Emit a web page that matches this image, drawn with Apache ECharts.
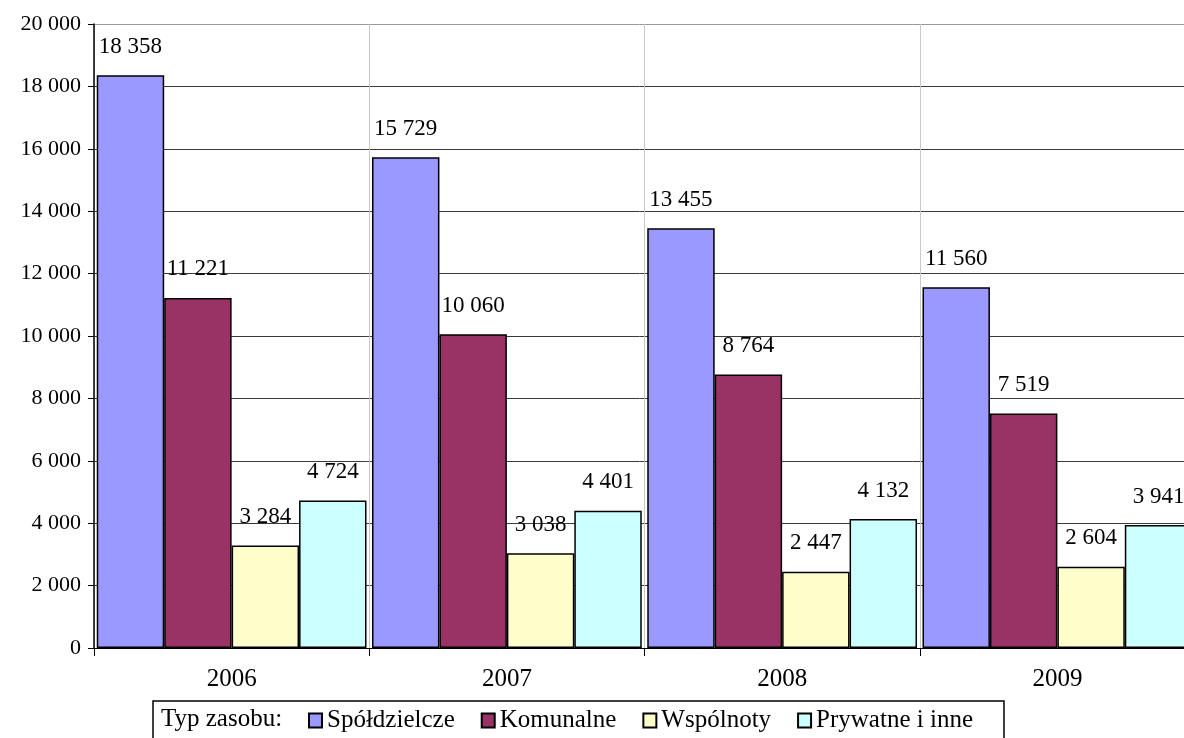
<!DOCTYPE html>
<html>
<head>
<meta charset="utf-8">
<script src="https://cdn.jsdelivr.net/npm/echarts@6/dist/echarts.min.js"></script>
<style>
    html, body { margin: 0; padding: 0; background: #fff; }
    #chart { width: 1184px; height: 738px; }
</style>
</head>
<body>
<div id="chart"></div>
<script>
var years = ['2006', '2007', '2008', '2009'];
var seriesNames = ['Spółdzielcze', 'Komunalne', 'Wspólnoty', 'Prywatne i inne'];
var spoldzielcze = [18358, 15729, 13455, 11560];
var komunalne = [11221, 10060, 8764, 7519];
var wspolnoty = [3284, 3038, 2447, 2604];
var prywatne = [4724, 4401, 4132, 3941];
var colors = ['#9999FF', '#993366', '#FFFFCC', '#CCFFFF'];

var FONT = 'Liberation Serif';

function fmt(v) {
    return String(v).replace(/\B(?=(\d{3})+(?!\d))/g, ' ');
}

function makeSeries(name, data, color) {
    return {
        name: name,
        type: 'bar',
        data: data,
        barGap: '0%',
        barCategoryGap: '2%',
        itemStyle: {
            color: color,
            borderColor: '#000',
            borderWidth: 1.5
        },
        label: {
            show: true,
            position: 'top',
            distance: 17,
            color: '#000',
            fontFamily: FONT,
            fontSize: 23,
            formatter: function (p) { return fmt(p.value); }
        }
    };
}

var chart = echarts.init(document.getElementById('chart'));

// top grid line is lighter than the rest
var gridColors = [];
for (var i = 0; i < 10; i++) gridColors.push('#3a3a3a');
gridColors.push('#999');

chart.setOption({
    backgroundColor: '#fff',
    animation: false,
    grid: {
        left: 94,
        top: 24,
        width: 1101,
        height: 624,
        outerBoundsMode: 'none'
    },
    legend: {
        left: 153,
        top: 701,
        orient: 'horizontal',
        data: seriesNames,
        icon: 'rect',
        borderColor: '#000',
        borderWidth: 1.5,
        padding: [7, 31, 8, 155],
        itemGap: 26,
        itemWidth: 13,
        itemHeight: 14,
        textStyle: {
            fontFamily: FONT,
            fontSize: 25,
            color: '#000'
        }
    },
    graphic: [{
        type: 'text',
        left: 161,
        top: 707,
        style: {
            text: 'Typ zasobu:',
            font: '25px "Liberation Serif"',
            fill: '#000'
        }
    }],
    xAxis: {
        type: 'category',
        data: years,
        axisLine: { lineStyle: { color: '#000', width: 1 } },
        axisTick: { show: true, length: 8, lineStyle: { color: '#000' } },
        axisLabel: {
            margin: 19,
            color: '#000',
            fontFamily: FONT,
            fontSize: 25
        },
        splitLine: { show: true, lineStyle: { color: '#c8c8c8', width: 1 } }
    },
    yAxis: {
        type: 'value',
        min: 0,
        max: 20000,
        interval: 2000,
        axisLine: { show: true, lineStyle: { color: '#000', width: 1.5 } },
        axisTick: { show: true, length: 6, lineStyle: { color: '#000' } },
        axisLabel: {
            margin: 13,
            color: '#000',
            fontFamily: FONT,
            fontSize: 22,
            formatter: fmt
        },
        splitLine: { show: true, lineStyle: { color: gridColors, width: 1 } }
    },
    series: [
        makeSeries(seriesNames[0], spoldzielcze, colors[0]),
        makeSeries(seriesNames[1], komunalne, colors[1]),
        makeSeries(seriesNames[2], wspolnoty, colors[2]),
        makeSeries(seriesNames[3], prywatne, colors[3])
    ]
});
</script>
</body>
</html>
